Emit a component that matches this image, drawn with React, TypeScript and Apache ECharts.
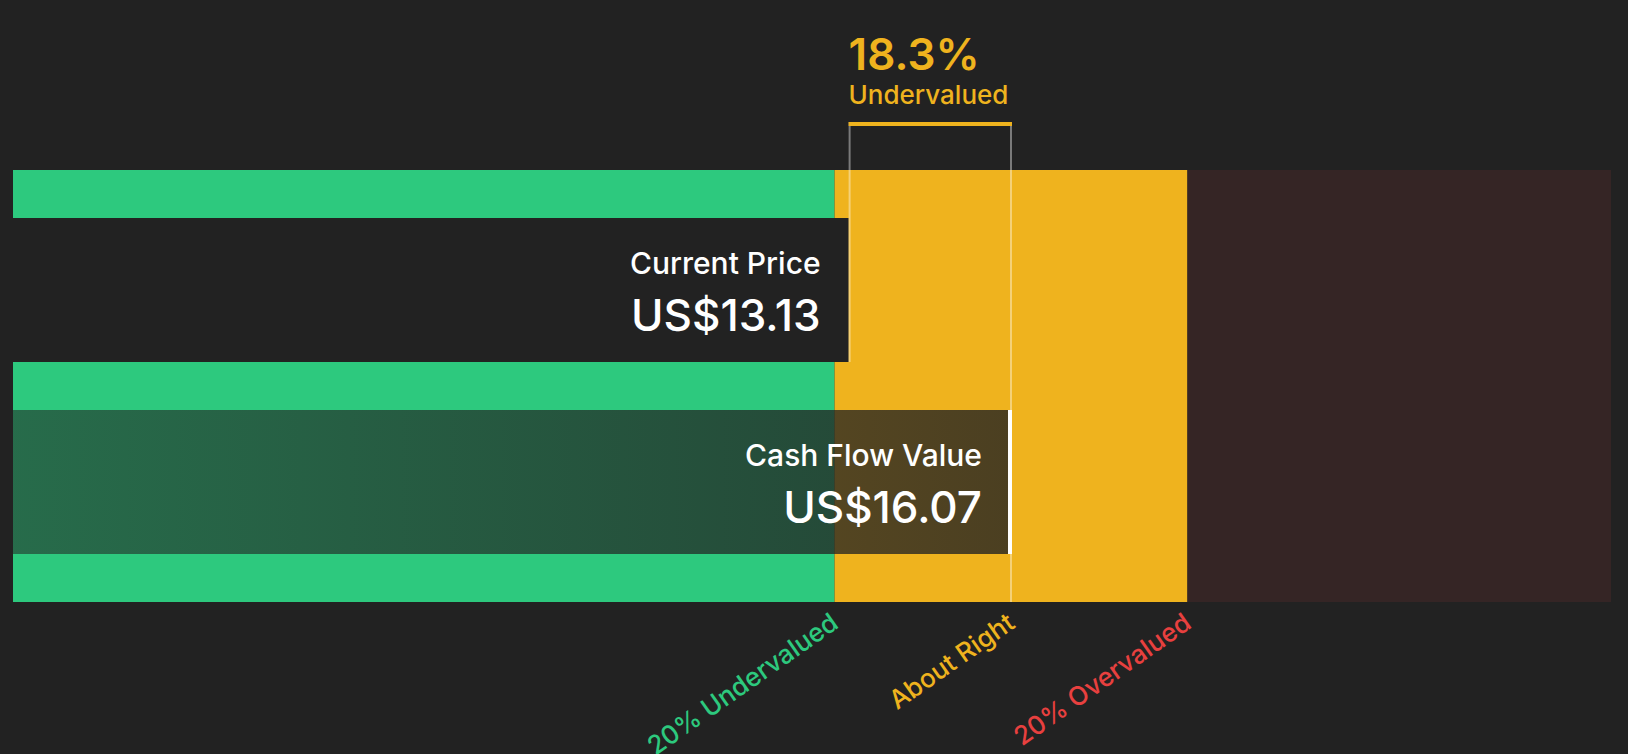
import React, { useEffect, useRef } from "react";
import * as echarts from "echarts";

// ---- data ----
const CURRENT_PRICE = 13.13;
const FAIR_VALUE = 16.07;
const BAR_LABELS = ["Current Price", "Cash Flow Value"];
const BAR_VALUES = [CURRENT_PRICE, FAIR_VALUE];
const ZONE_BOUNDS = [12.856, 19.284]; // 20% under / 20% over fair value
const ZONE_LABELS = ["20% Undervalued", "About Right", "20% Overvalued"];
const TICK_VALUES = [12.856, 16.07, 19.284];
const AXIS_MIN = -2.11;
const AXIS_MAX = 27.0;
const DISCOUNT_TEXT = "18.3%";
const DISCOUNT_LABEL = "Undervalued";

// ---- style ----
const BG = "#222222";
const GREEN = "#2dc97e";
const YELLOW = "#efb31e";
const BROWN = "#352525";
const RED = "#e8403f";
const ZONE_COLORS = [GREEN, YELLOW, BROWN];
const LABEL_COLORS = [GREEN, YELLOW, RED];
const FONT = "Inter, 'Noto Sans', sans-serif";

// row layout on a 0..9 vertical scale
const BAR_ROWS = [
  [1, 4],
  [5, 8],
];
const BRACKET_ROW = -1;

export default function App() {
  const ref = useRef<HTMLDivElement>(null);

  useEffect(() => {
    if (!ref.current) return;
    const chart = echarts.init(ref.current, undefined, { renderer: "svg" });

    const zoneData = [
      [AXIS_MIN, ZONE_BOUNDS[0]],
      [ZONE_BOUNDS[0], ZONE_BOUNDS[1]],
      [ZONE_BOUNDS[1], AXIS_MAX],
    ];

    const nearestIndex = (v: number) => {
      let best = 0;
      for (let i = 1; i < TICK_VALUES.length; i++) {
        if (Math.abs(TICK_VALUES[i] - v) < Math.abs(TICK_VALUES[best] - v)) best = i;
      }
      return best;
    };

    const labelStyle = (i: number) => ({
      color: LABEL_COLORS[i],
      fontSize: 26,
      fontWeight: 500,
      fontFamily: FONT,
    });

    const option: any = {
      backgroundColor: BG,
      animation: false,
      grid: {
        left: 13,
        right: 17,
        top: 170,
        bottom: 152,
        containLabel: false,
        outerBoundsMode: "none",
      },
      xAxis: {
        type: "value",
        min: AXIS_MIN,
        max: AXIS_MAX,
        axisLine: { show: false },
        axisTick: { show: false },
        splitLine: { show: false },
        axisLabel: {
          customValues: TICK_VALUES,
          rotate: 35,
          margin: 17,
          fontSize: 26,
          fontWeight: 500,
          fontFamily: FONT,
          hideOverlap: false,
          formatter: (v: number) => {
            const i = nearestIndex(v);
            return `{z${i}|${ZONE_LABELS[i]}}`;
          },
          rich: {
            z0: labelStyle(0),
            z1: labelStyle(1),
            z2: labelStyle(2),
          },
        },
      },
      yAxis: {
        type: "value",
        min: 0,
        max: 9,
        inverse: true,
        show: false,
      },
      series: [
        {
          type: "custom",
          name: "zones",
          clip: false,
          silent: true,
          data: zoneData,
          renderItem: (params: any, api: any) => {
            const a = api.coord([api.value(0), 0]);
            const b = api.coord([api.value(1), 9]);
            return {
              type: "rect",
              shape: { x: a[0], y: a[1], width: b[0] - a[0], height: b[1] - a[1] },
              style: { fill: ZONE_COLORS[params.dataIndex] },
            };
          },
        },
        {
          type: "custom",
          name: "bars",
          clip: false,
          silent: true,
          data: BAR_VALUES.map((v, i) => [v, i]),
          renderItem: (params: any, api: any) => {
            const i = params.dataIndex;
            const v = api.value(0);
            const rows = BAR_ROWS[i];
            const s = api.coord([AXIS_MIN, rows[0]]);
            const e = api.coord([v, rows[1]]);
            const end = i === 1 ? e[0] + 1 : e[0] - 1;
            const w = end - s[0];
            const h = e[1] - s[1];
            const fill =
              i === 0
                ? BG
                : new echarts.graphic.LinearGradient(0, 0, 1, 0, [
                    { offset: 0, color: "rgba(34,34,34,0.56)" },
                    { offset: 1, color: "rgba(34,34,34,0.8)" },
                  ]);
            const children: any[] = [
              {
                type: "rect",
                shape: { x: s[0], y: s[1], width: w, height: h },
                style: { fill },
              },
            ];
            if (i === 1) {
              children.push({
                type: "rect",
                shape: { x: end - 4, y: s[1], width: 4, height: h },
                style: { fill: "#ffffff" },
              });
            }
            children.push({
              type: "text",
              x: e[0] - 29,
              y: s[1] + 45,
              style: {
                text: BAR_LABELS[i],
                fill: "#ffffff",
                fontSize: 30,
                fontWeight: 500,
                fontFamily: FONT,
                align: "right",
                textAlign: "right",
                verticalAlign: "middle",
                textVerticalAlign: "middle",
              },
            });
            children.push({
              type: "text",
              x: e[0] - 29,
              y: s[1] + 97,
              style: {
                text: `US$${v.toFixed(2)}`,
                fill: "#ffffff",
                fontSize: 44,
                fontWeight: 500,
                fontFamily: FONT,
                align: "right",
                textAlign: "right",
                verticalAlign: "middle",
                textVerticalAlign: "middle",
              },
            });
            return { type: "group", children };
          },
        },
        {
          type: "custom",
          name: "markers",
          clip: false,
          silent: true,
          data: [[CURRENT_PRICE, FAIR_VALUE]],
          renderItem: (params: any, api: any) => {
            const cp = api.coord([api.value(0), BRACKET_ROW]);
            const fv = api.coord([api.value(1), BRACKET_ROW]);
            const cpEnd = api.coord([api.value(0), BAR_ROWS[0][1]]);
            const fvEnd = api.coord([api.value(1), 9]);
            return {
              type: "group",
              children: [
                {
                  type: "line",
                  shape: { x1: cp[0], y1: cp[1], x2: cpEnd[0], y2: cpEnd[1] },
                  style: { stroke: "rgba(255,255,255,0.4)", lineWidth: 2 },
                },
                {
                  type: "line",
                  shape: { x1: fv[0], y1: fv[1], x2: fvEnd[0], y2: fvEnd[1] },
                  style: { stroke: "rgba(255,255,255,0.4)", lineWidth: 2 },
                },
                {
                  type: "rect",
                  shape: { x: cp[0] - 1, y: cp[1], width: fv[0] - cp[0] + 2, height: 4 },
                  style: { fill: YELLOW },
                },
                {
                  type: "text",
                  x: cp[0] - 1,
                  y: cp[1] - 68,
                  style: {
                    text: DISCOUNT_TEXT,
                    fill: YELLOW,
                    fontSize: 44,
                    fontWeight: 600,
                    fontFamily: FONT,
                    align: "left",
                    textAlign: "left",
                    verticalAlign: "middle",
                    textVerticalAlign: "middle",
                  },
                },
                {
                  type: "text",
                  x: cp[0] - 1,
                  y: cp[1] - 28,
                  style: {
                    text: DISCOUNT_LABEL,
                    fill: YELLOW,
                    fontSize: 26,
                    fontWeight: 500,
                    fontFamily: FONT,
                    align: "left",
                    textAlign: "left",
                    verticalAlign: "middle",
                    textVerticalAlign: "middle",
                  },
                },
              ],
            };
          },
        },
      ],
    };

    chart.setOption(option);
    return () => chart.dispose();
  }, []);

  return (
    <div
      ref={ref}
      style={{ position: "absolute", left: 0, top: 0, width: 1628, height: 754, background: BG }}
    />
  );
}
